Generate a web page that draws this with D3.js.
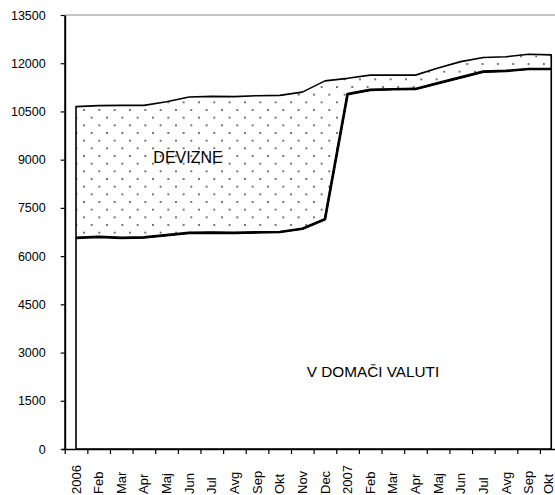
<!DOCTYPE html>
<html><head><meta charset="utf-8">
<script src="https://cdn.jsdelivr.net/npm/d3@7"></script>
<style>body{margin:0;background:#fff}svg{display:block;font-family:Arial,"Liberation Sans",sans-serif}</style>
</head><body><svg id="c" width="555" height="495"></svg>
<script>
const categories = ["2006","Feb","Mar","Apr","Maj","Jun","Jul","Avg","Sep","Okt","Nov","Dec",
                    "2007","Feb","Mar","Apr","Maj","Jun","Jul","Avg","Sep","Okt"];
const domaci  = [6570,6600,6570,6580,6650,6720,6730,6720,6740,6750,6850,7150,
                 11040,11170,11190,11200,11380,11560,11740,11760,11820,11820];
const devizne = [4080,4080,4120,4110,4150,4230,4240,4240,4250,4250,4250,4300,
                 490,460,440,430,470,490,440,440,460,440];
const yTicks = [0,1500,3000,4500,6000,7500,9000,10500,12000,13500];
const seriesLabels = ["V DOMAČI VALUTI","DEVIZNE"];

const svg = d3.select("#c");
const left = 64.7, step = 22.63, n = categories.length;
const right = left + step * n;
const yTop = 15, yBot = 449;

const x = d3.scaleBand().domain(d3.range(n)).range([left, right]).paddingInner(0).paddingOuter(0);
const cx = i => x(i) + x.bandwidth() / 2;
const xb = d3.scaleLinear().domain([0, n]).range([left, right]);
const y = d3.scaleLinear().domain([0, 13500]).range([yBot, yTop]);

const rows = categories.map((c, i) => ({i, domaci: domaci[i], devizne: devizne[i]}));
const stacked = d3.stack().keys(["domaci","devizne"])(rows);

// dot pattern
const defs = svg.append("defs");
const ps = 15.33;
const pat = defs.append("pattern").attr("id","dots").attr("patternUnits","userSpaceOnUse")
  .attr("width",ps).attr("height",ps).attr("x",84).attr("y",110);
pat.append("rect").attr("width",ps).attr("height",ps).attr("fill","#fff");
[[0,0],[ps,0],[0,ps],[ps,ps],[ps/2,ps/2]].forEach(([a,b]) =>
  pat.append("circle").attr("cx",a).attr("cy",b).attr("r",0.9).attr("fill","#333"));

// top border of plot area
svg.append("line").attr("x1",left).attr("x2",right).attr("y1",yTop).attr("y2",yTop)
  .attr("stroke","#8c8c8c").attr("stroke-width",1.2);

// lower area (domestic currency)
const areaLow = d3.area().x(d => cx(d.data.i)).y0(y(0)).y1(d => y(d[1]));
svg.append("path").datum(stacked[0]).attr("d", areaLow)
  .attr("fill","#fff").attr("stroke","#000").attr("stroke-width",1.6).attr("stroke-linejoin","round");

// upper area (foreign currency)
const areaUp = d3.area().x(d => cx(d.data.i)).y0(d => y(d[0])).y1(d => y(d[1]));
svg.append("path").datum(stacked[1]).attr("d", areaUp)
  .attr("fill","url(#dots)").attr("stroke","#000").attr("stroke-width",1.6).attr("stroke-linejoin","round");

// thicker top line of the lower area
const lineLow = d3.line().x(d => cx(d.data.i)).y(d => y(d[1]));
svg.append("path").datum(stacked[0]).attr("d", lineLow)
  .attr("fill","none").attr("stroke","#000").attr("stroke-width",2.7).attr("stroke-linejoin","round");

// y axis
const gy = svg.append("g").attr("transform",`translate(${left},0)`)
  .call(d3.axisLeft(y).tickValues(yTicks).tickSize(4).tickSizeOuter(0).tickPadding(15).tickFormat(d3.format("d")));
gy.select(".domain").attr("stroke","#000").attr("stroke-width",2);
gy.selectAll(".tick line").attr("stroke","#000").attr("stroke-width",1.2);
gy.selectAll(".tick text").attr("font-size","12.5px").attr("fill","#000").attr("font-family","Arial, 'Liberation Sans', sans-serif");

// x axis
const gx = svg.append("g").attr("transform",`translate(0,${yBot})`)
  .call(d3.axisBottom(xb).tickValues(d3.range(n + 1)).tickSize(5).tickSizeOuter(0).tickFormat(""));
gx.select(".domain").attr("stroke","#000").attr("stroke-width",1.5).attr("d",`M${left-3},0.5H${right}`);
gx.selectAll(".tick line").attr("stroke","#000").attr("stroke-width",1.2);

svg.append("g").selectAll("text").data(categories).join("text")
  .attr("transform",(d,i) => `translate(${Math.min(cx(i), 548)},494) rotate(-90)`)
  .attr("dy","0.35em").attr("text-anchor","start")
  .attr("font-size","13px").attr("fill","#000").text(d => d);

// series labels
svg.append("text").attr("x",188).attr("y",162.5).attr("text-anchor","middle")
  .attr("font-size","16px").attr("fill","#000").text(seriesLabels[1]);
svg.append("text").attr("x",373).attr("y",376.5).attr("text-anchor","middle")
  .attr("font-size","15.3px").attr("fill","#000").text(seriesLabels[0]);
</script>
</body></html>
